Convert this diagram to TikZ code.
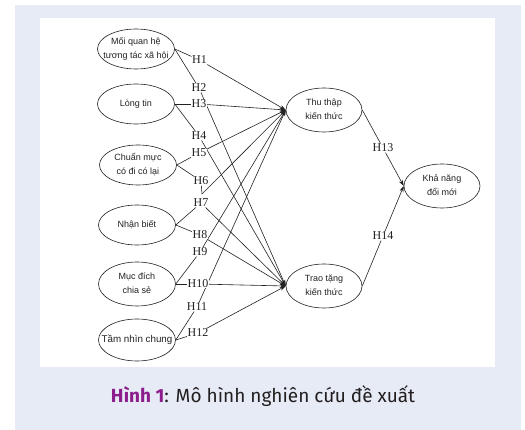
\documentclass[tikz,border=0pt]{standalone}
\usepackage{fontspec}
\setmainfont{Liberation Serif}
\newfontfamily\elfont{Liberation Sans}
\newfontfamily\capfont{Fira Sans}
\usetikzlibrary{arrows.meta,shapes.geometric}
\pgfdeclarelayer{back}
\pgfdeclarelayer{bg}
\pgfsetlayers{back,bg,main}
\definecolor{panelblue}{HTML}{E7EBF6}
\definecolor{capmag}{HTML}{8C1D8C}
\definecolor{captext}{HTML}{231F20}
\definecolor{ink}{HTML}{222222}
\newcommand\elbox[1]{\makebox[0pt][c]{\begin{tabular}{@{}c@{}}#1\end{tabular}}}
\begin{document}
\begin{tikzpicture}[x=1pt,y=-1pt,
  var/.style={ellipse,draw=ink,line width=0.6pt,minimum width=77pt,minimum height=40pt,inner sep=0pt,
    font=\elfont\fontsize{9}{13.5}\selectfont,text=ink},
  hyp/.style={font=\fontsize{12}{12}\selectfont,inner sep=0.4pt,fill=white,text=ink},
  link/.style={draw=ink,line width=0.6pt},
  arr/.style={link,-{Stealth[length=6pt,width=4pt]}}]
\useasboundingbox (0,0) rectangle (525,430);
\begin{pgfonlayer}{back}
\fill[white] (0,0) rectangle (525,430);
\fill[panelblue] (15,5) rectangle (521,430);
\fill[white] (40,18) rectangle (495,367);
\end{pgfonlayer}

% variables
\node[var] (E1) at (136,49) {\elbox{Mối quan hệ\\tương tác xã hội}};
\node[var] (E2) at (136,104) {\elbox{Lòng tin}};
\node[var] (E3) at (138,165) {\elbox{Chuẩn mực\\có đi có lại}};
\node[var] (E4) at (137,225) {\elbox{Nhận biết}};
\node[var,minimum height=44pt] (E5) at (137,284) {\elbox{Mục đích\\chia sẻ}};
\node[var,minimum height=42pt] (E6) at (137,340) {\elbox{\fontsize{9.8}{12}\selectfont Tầm nhìn chung}};
\node[var,minimum width=76pt,minimum height=44pt] (T) at (324,110) {\elbox{Thu thập\\kiến thức}};
\node[var,minimum width=76pt,minimum height=44pt] (R) at (324,286) {\elbox{Trao tặng\\kiến thức}};
\node[var,minimum width=76pt,minimum height=44pt] (K) at (442,186) {\elbox{Khả năng\\đổi mới}};

% hypothesis labels
\node[hyp] (H1) at (199.5,60) {H1};
\node[hyp] (H2) at (199,88) {H2};
\node[hyp] (H3) at (199,104) {H3};
\node[hyp] (H4) at (199,136) {H4};
\node[hyp] (H5) at (199,153) {H5};
\node[hyp] (H6) at (201,181) {H6};
\node[hyp] (H7) at (201,203) {H7};
\node[hyp] (H8) at (200,235) {H8};
\node[hyp] (H9) at (200,252) {H9};
\node[hyp] (H10) at (198,284) {H10};
\node[hyp] (H11) at (197,307) {H11};
\node[hyp] (H12) at (198,333) {H12};
\node[hyp] (H13) at (383,148) {H13};
\node[hyp] (H14) at (383,236) {H14};
\coordinate (vv) at (202,194);

\begin{pgfonlayer}{bg}
\draw[link] (E1.east) -- (H1); \draw[arr] (H1) -- (T.west);
\draw[link] (E1.east) -- (H2); \draw[arr] (H2) -- (R.west);
\draw[link] (E2.east) -- (H3); \draw[arr] (H3) -- (T.west);
\draw[link] (E2.east) -- (H4); \draw[arr] (H4) -- (R.west);
\draw[link] (E3.east) -- (H5); \draw[arr] (H5) -- (T.west);
\draw[link] (E3.east) -- (H6) -- (vv); \draw[arr] (vv) -- (T.west);
\draw[link] (E4.east) -- (H7); \draw[arr] (H7) -- (R.west);
\draw[link] (E4.east) -- (H8); \draw[arr] (H8) -- (R.west);
\draw[link] (E5.east) -- (H9); \draw[arr] (H9) -- (T.west);
\draw[link] (E5.east) -- (H10); \draw[arr] (H10) -- (R.west);
\draw[link] (E6.east) -- (H11); \draw[arr] (H11) -- (T.west);
\draw[link] (E6.east) -- (H12); \draw[arr] (H12) -- (R.west);
\draw[link] (T.east) -- (H13); \draw[arr] (H13) -- (K.west);
\draw[link] (R.east) -- (H14); \draw[arr] (H14) -- (K.west);
\end{pgfonlayer}

\node[font=\capfont\fontsize{19}{22}\selectfont,text=captext] (cap) at (263,396)
  {\textcolor{capmag}{\bfseries Hình 1}: Mô hình nghiên cứu đề xuất};
\end{tikzpicture}
\end{document}
